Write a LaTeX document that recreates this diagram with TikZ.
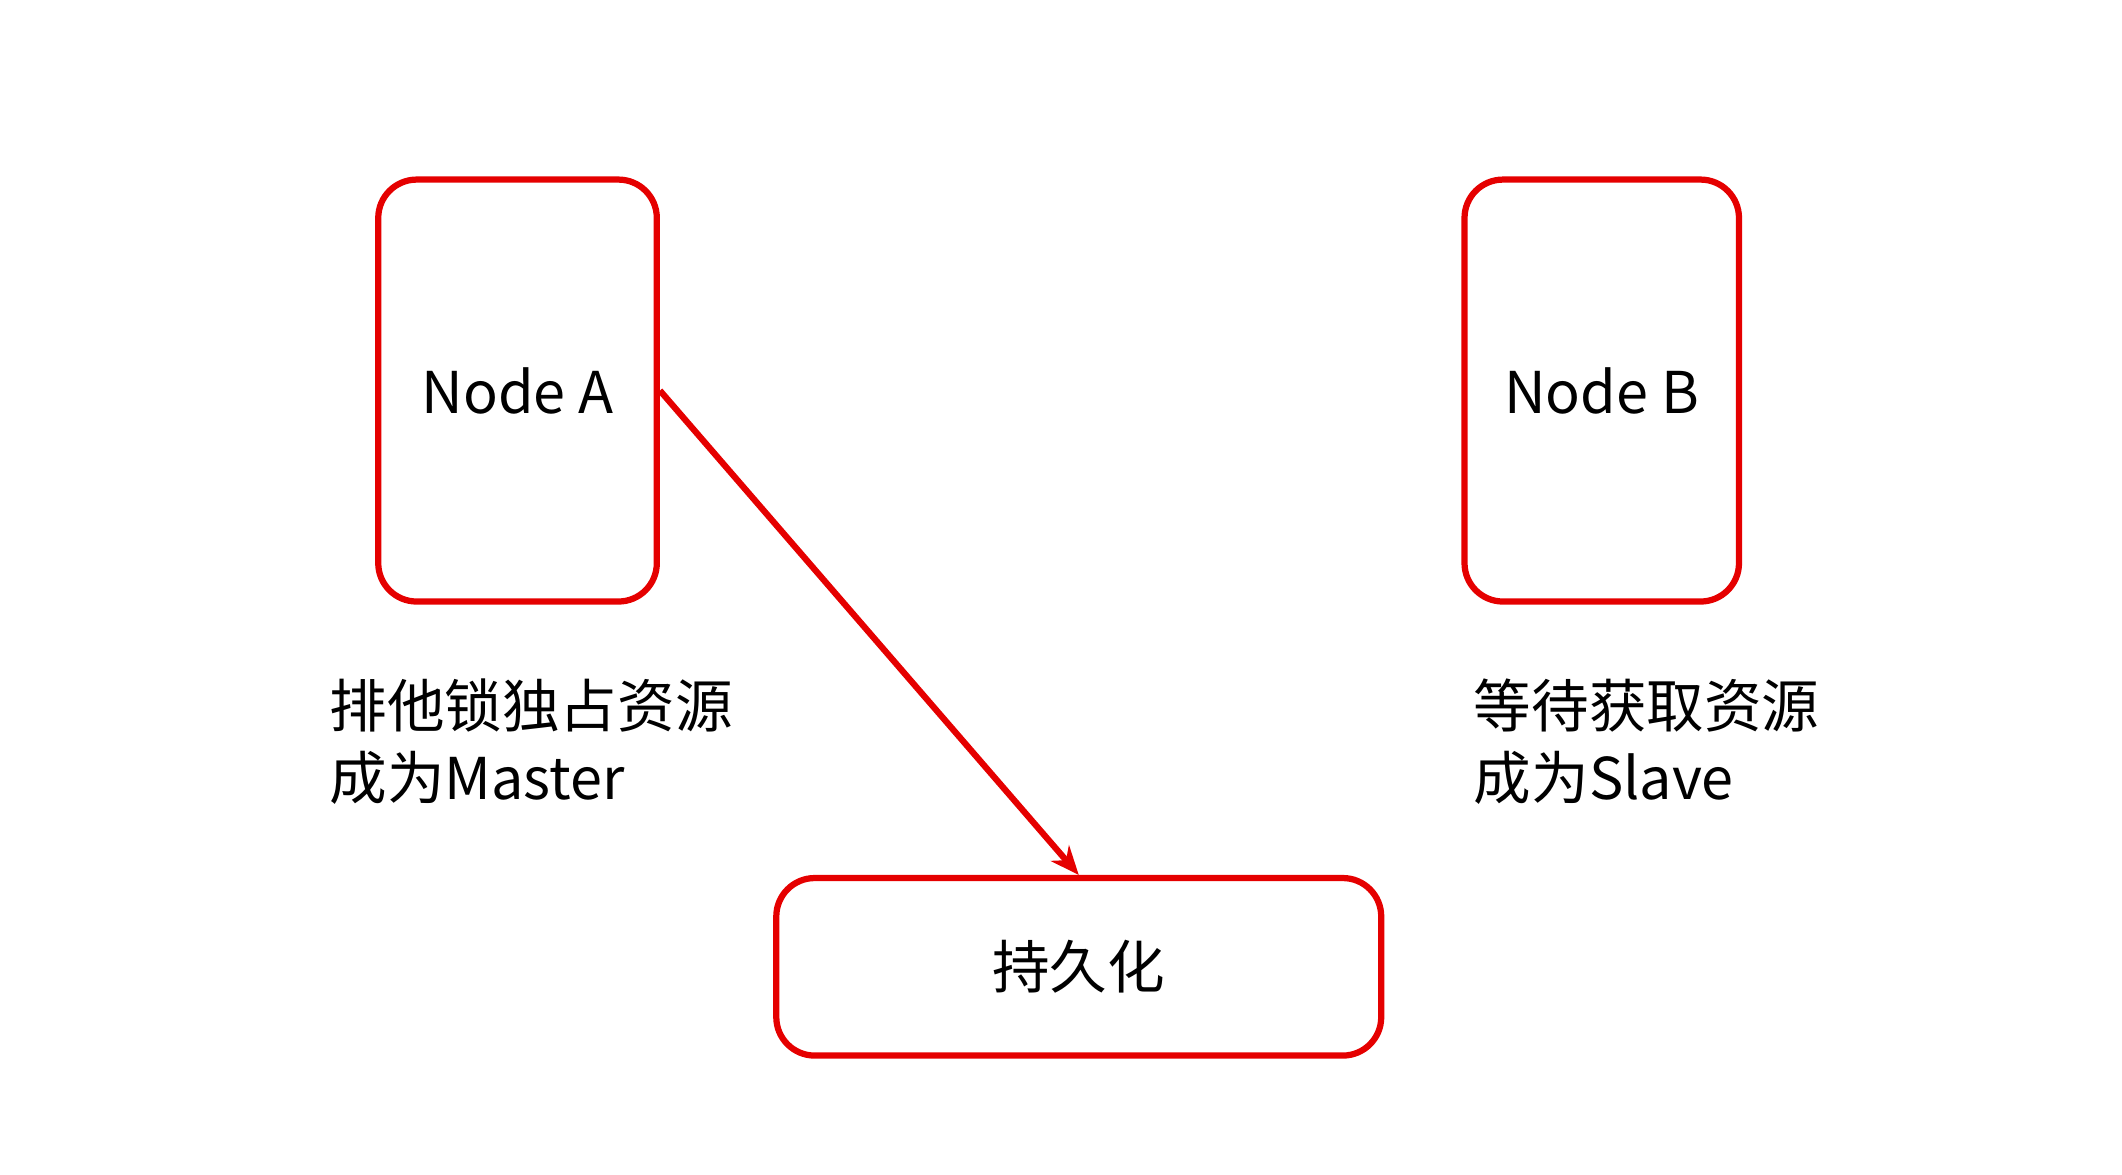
\documentclass[tikz,border=0pt]{standalone}
\usepackage{fontspec}
\setmainfont{Noto Sans CJK SC}
\usetikzlibrary{arrows.meta,positioning}

\begin{document}
\begin{tikzpicture}[x=0.02cm, y=-0.02cm,
    box/.style={draw=red!90!black, line width=2.6pt, rounded corners=16pt, font=\fontsize{24}{30}\selectfont},
    lbl/.style={anchor=north west, align=left, inner sep=0pt, font=\fontsize{24}{30}\selectfont}]

    \useasboundingbox (0,0) rectangle (1554,860);

    \node[box, minimum width=204*0.02cm, minimum height=309*0.02cm] (nodea) at (379,286) {Node A};
    \node[box, minimum width=201*0.02cm, minimum height=309*0.02cm] (nodeb) at (1173,286) {Node B};
    \node[box, minimum width=443*0.02cm, minimum height=130*0.02cm] (persist) at (790,708) {持久化};

    \node[lbl] (texta) at (241,497) {排他锁独占资源\\成为Master};
    \node[lbl] (textb) at (1079,497) {等待获取资源\\成为Slave};

    \draw[-{Stealth[length=12pt,width=10pt]}, red!90!black, line width=2.6pt] (nodea.east) -- (persist.north);

\end{tikzpicture}
\end{document}
